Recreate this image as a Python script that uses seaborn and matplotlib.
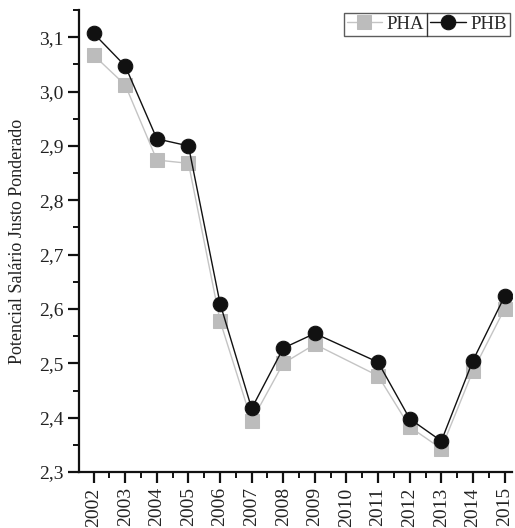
import numpy as np
import pandas as pd
import matplotlib
matplotlib.use("Agg")
import matplotlib.pyplot as plt
from matplotlib.ticker import FuncFormatter, MultipleLocator
from matplotlib.lines import Line2D
import seaborn as sns

years = [2002, 2003, 2004, 2005, 2006, 2007, 2008, 2009, 2011, 2012, 2013, 2014, 2015]
pha = [3.067, 3.012, 2.874, 2.868, 2.578, 2.394, 2.500, 2.535, 2.477, 2.383, 2.343, 2.486, 2.600]
phb = [3.107, 3.047, 2.913, 2.900, 2.610, 2.417, 2.528, 2.555, 2.502, 2.398, 2.357, 2.505, 2.623]
tick_years = list(range(2002, 2016))

sns.set_style("ticks")
plt.rcParams['font.family'] = ['Liberation Serif', 'DejaVu Serif']

fig = plt.figure(figsize=(5.15, 5.28), dpi=100)
ax = fig.add_axes([0.153, 0.106, 0.842, 0.875])

df = pd.DataFrame({"ano": years, "PHA": pha, "PHB": phb})

sns.lineplot(data=df, x="ano", y="PHA", ax=ax, color="#c4c4c4", lw=1,
             marker="s", markersize=9.5, markerfacecolor="#bcbcbc",
             markeredgecolor="#bcbcbc", label="PHA")
sns.lineplot(data=df, x="ano", y="PHB", ax=ax, color="#111111", lw=1,
             marker="o", markersize=10.5, markerfacecolor="#111111",
             markeredgecolor="#111111", label="PHB")

ax.set_xlim(2001.53, 2015.25)
ax.set_ylim(2.3, 3.15)
ax.set_xticks(tick_years)
ax.set_xticklabels([str(y) for y in tick_years], rotation=90)
ax.xaxis.set_minor_locator(MultipleLocator(0.5))
ax.yaxis.set_major_locator(MultipleLocator(0.1))
ax.yaxis.set_minor_locator(MultipleLocator(0.05))
ax.yaxis.set_major_formatter(FuncFormatter(lambda v, p: f"{v:.1f}".replace(".", ",")))

for s in ["top", "right"]:
    ax.spines[s].set_visible(False)
for s in ["left", "bottom"]:
    ax.spines[s].set_linewidth(1.6)
    ax.spines[s].set_color("#111111")
ax.tick_params(which="major", length=8, width=1.6, labelsize=14, direction="out",
               pad=3, color="#111111", labelcolor="#222222")
ax.tick_params(which="minor", length=4.5, width=1.4, direction="out", color="#111111")

ax.set_xlabel("")
ax.set_ylabel("Potencial Salário Justo Ponderado", fontsize=13, color="#222222")
ax.yaxis.set_label_coords(-0.122, 0.5)

leg = ax.legend(ncol=2, loc="upper right", bbox_to_anchor=(1.0, 1.0),
                fontsize=13.5, frameon=True, fancybox=False, borderpad=0.15,
                columnspacing=0.3, handlelength=1.9, handletextpad=0.25,
                borderaxespad=0.15)
leg.get_frame().set_edgecolor("#333333")
leg.get_frame().set_linewidth(1.0)

# divider between the two legend entries
fig.canvas.draw()
r = fig.canvas.get_renderer()
lb = leg.get_window_extent(r)
tb = leg.get_texts()[0].get_window_extent(r)
xd = tb.x1 + 3
fig.add_artist(Line2D([xd, xd], [lb.y0, lb.y1], transform=None, color="#333333", lw=1.0))

fig.savefig("out.png", dpi=100)
